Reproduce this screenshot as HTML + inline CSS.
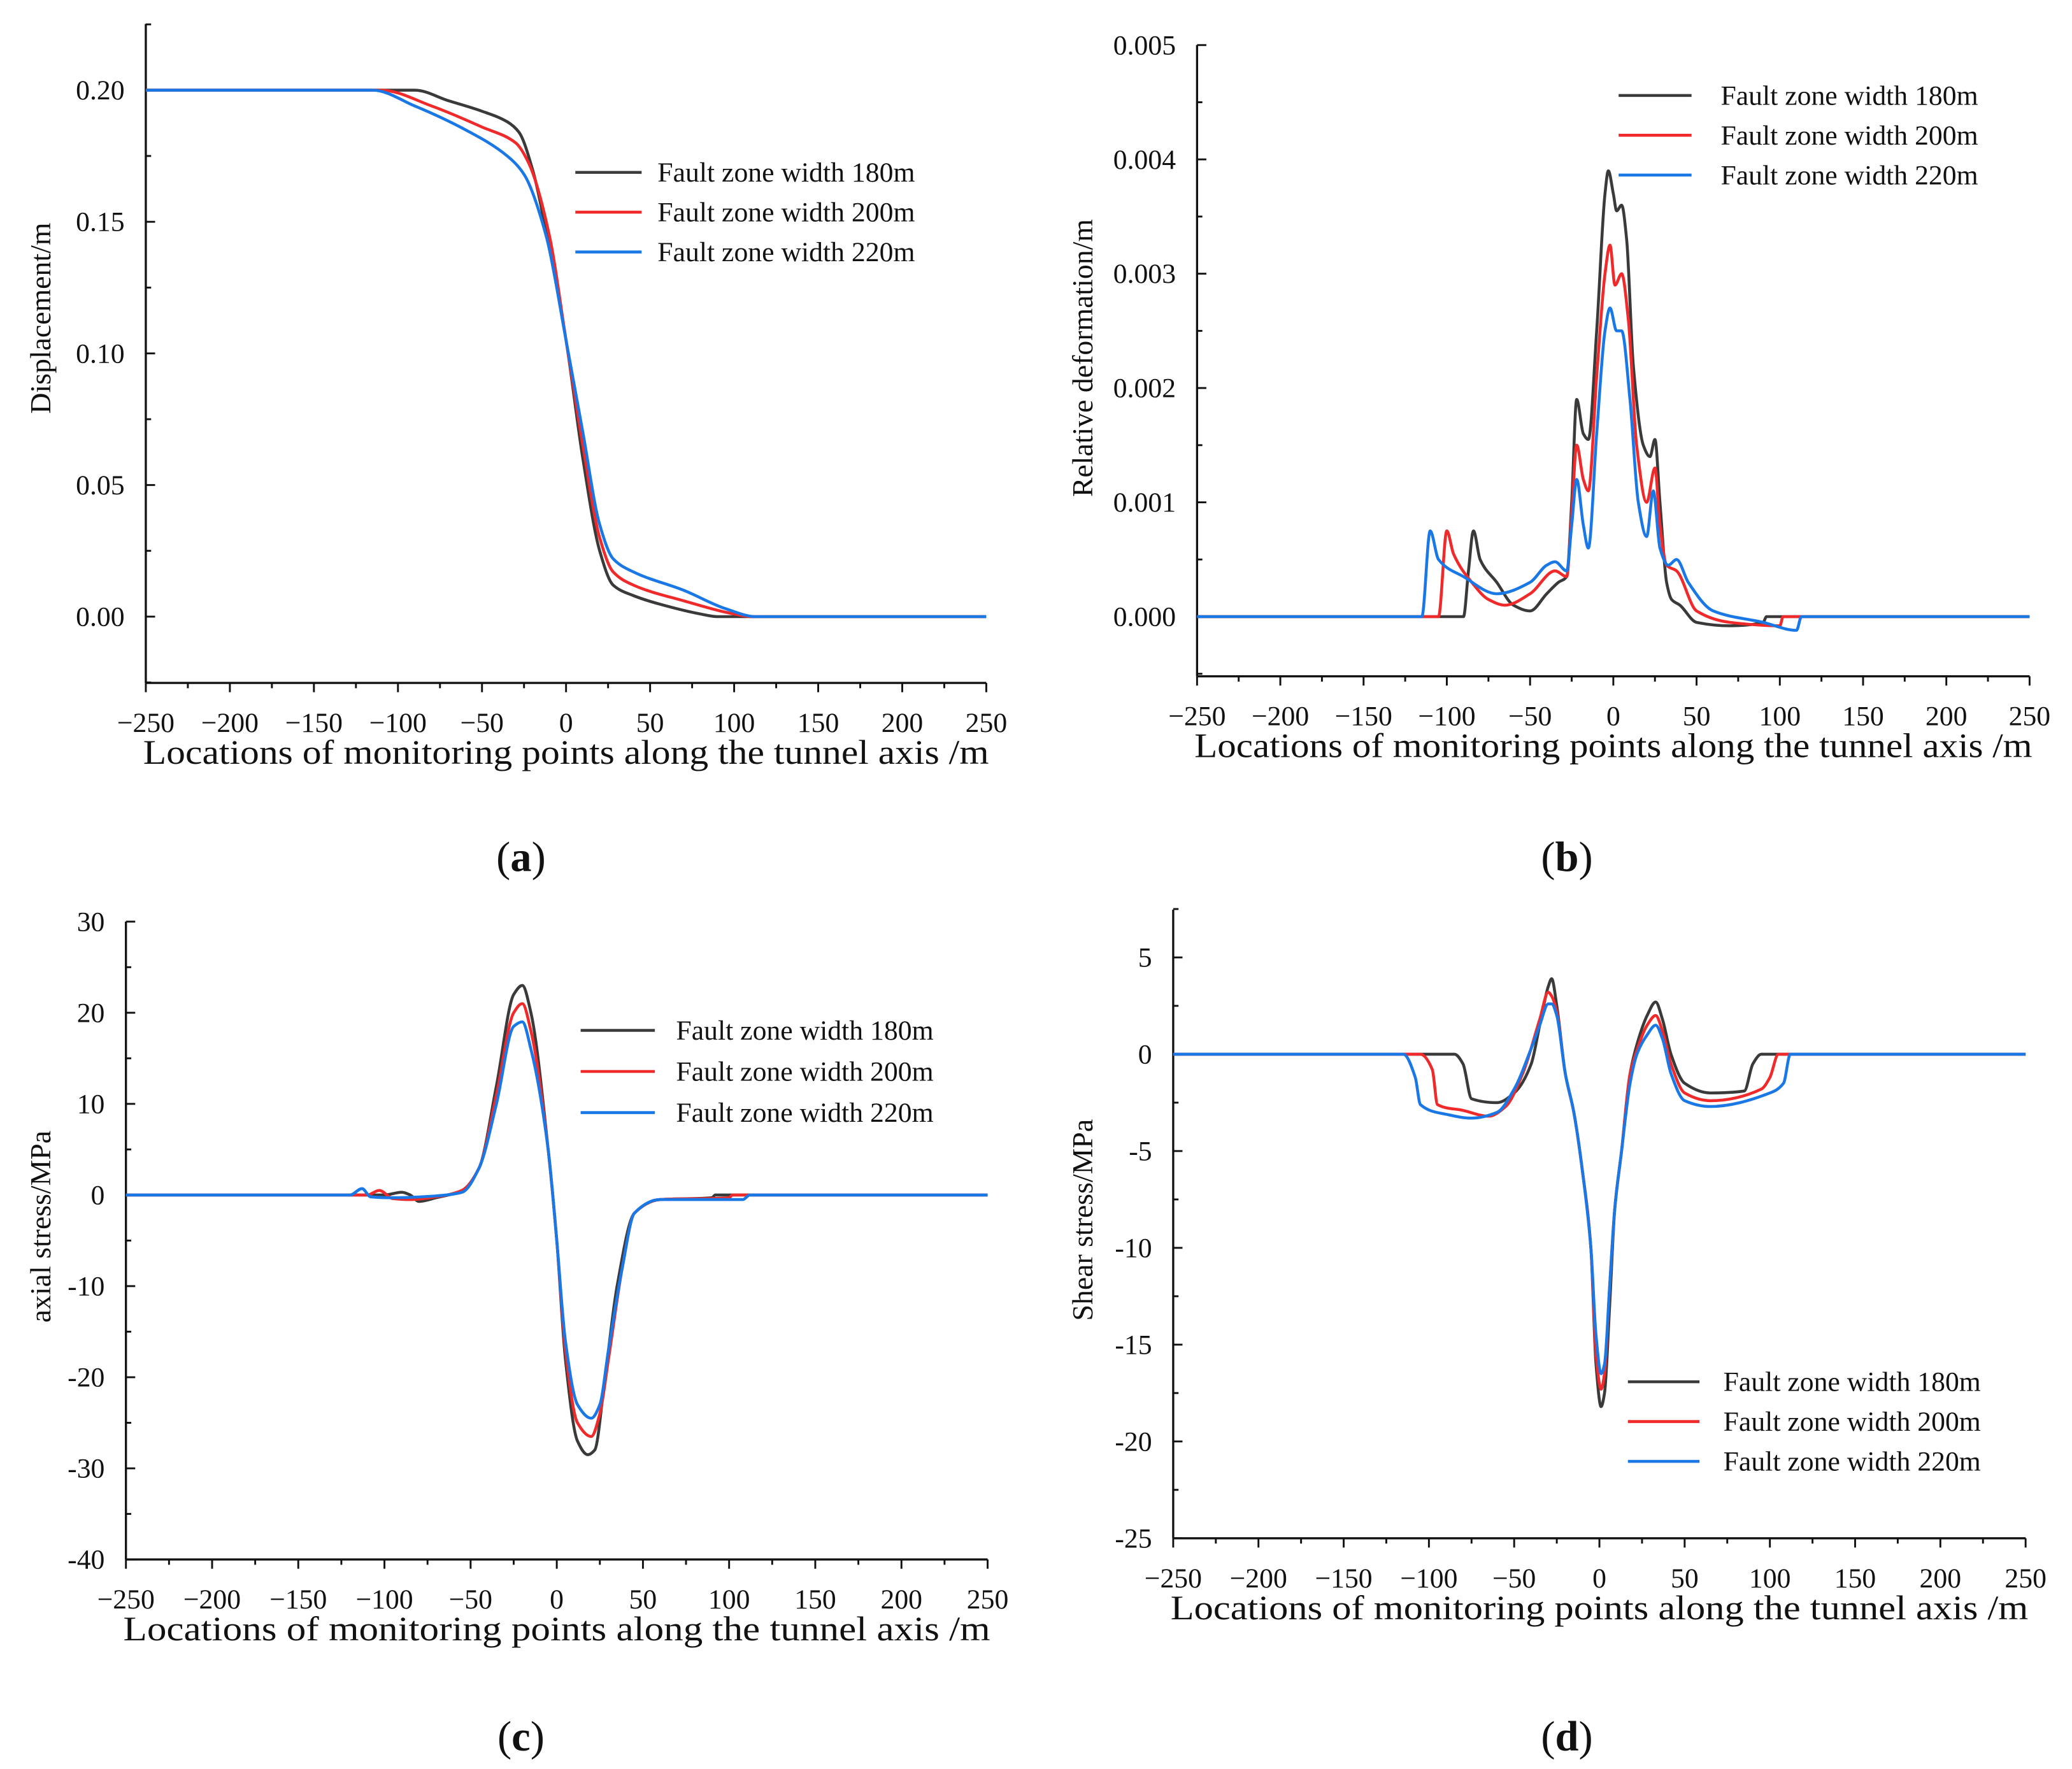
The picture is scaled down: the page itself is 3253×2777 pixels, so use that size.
<!DOCTYPE html>
<html><head><meta charset="utf-8"><style>
html,body{margin:0;padding:0;background:#fff;}
svg{display:block;}
svg text{font-family:"Liberation Serif","DejaVu Serif",serif;fill:#111;}
</style></head><body>
<svg id="fig" width="3253" height="2777" viewBox="0 0 1563 1334" preserveAspectRatio="none" font-family="Liberation Serif, serif" xmlns="http://www.w3.org/2000/svg">
<rect width="1563" height="1334" fill="#fff"/>
</svg>
<script>
// ---------- data ----------
const xTicks = [-250,-200,-150,-100,-50,0,50,100,150,200,250];
const legendLabels = ["Fault zone width 180m","Fault zone width 200m","Fault zone width 220m"];
const colors = ["#3a3a3a","#f02a2a","#1a78e6"];

const aTicks = [0.00,0.05,0.10,0.15,0.20];
const aTickLabels = ["0.00","0.05","0.10","0.15","0.20"];
const aX180 = [-250,-90,-70,-50,-35,-28,-20,-10,0,10,20,28,40,60,80,90,250];
const aY180 = [0.2,0.2,0.196,0.192,0.188,0.184,0.17,0.14,0.105,0.06,0.025,0.012,0.008,0.004,0.001,0,0];
const aX200 = [-250,-110,-80,-50,-30,-22,-10,0,10,20,28,40,70,100,110,250];
const aY200 = [0.2,0.2,0.194,0.186,0.18,0.172,0.145,0.105,0.065,0.03,0.017,0.012,0.006,0.001,0,0];
const aX220 = [-250,-115,-90,-60,-35,-25,-12,0,10,20,28,40,70,95,113,250];
const aY220 = [0.2,0.2,0.194,0.185,0.175,0.168,0.145,0.105,0.07,0.035,0.022,0.017,0.01,0.003,0,0];

const bTicks = [0,0.001,0.002,0.003,0.004,0.005];
const bTickLabels = ["0.000","0.001","0.002","0.003","0.004","0.005"];
const bX180 = [-250,-90,-87,-84,-80,-70,-60,-50,-40,-33,-28,-25,-22,-18,-15,-10,-5,-3,0,2,5,8,12,18,22,25,28,32,35,40,50,70,90,92,250];
const bY180 = [0,0,0.0004,0.00075,0.0005,0.0003,0.0001,0.00005,0.0002,0.0003,0.00035,0.001,0.0019,0.0016,0.00155,0.0025,0.0037,0.0039,0.0037,0.00355,0.0036,0.0033,0.0022,0.0015,0.0014,0.00155,0.001,0.0003,0.00015,0.0001,-0.00005,-0.00008,-0.00005,0,0];
const bX200 = [-250,-105,-100,-96,-85,-75,-65,-50,-35,-28,-25,-22,-18,-15,-10,-5,-2,1,5,9,14,20,25,28,32,38,50,70,100,102,250];
const bY200 = [0,0,0.00075,0.00055,0.0003,0.00015,0.0001,0.0002,0.0004,0.00035,0.0009,0.0015,0.0012,0.0011,0.0021,0.003,0.00325,0.0029,0.003,0.0026,0.0015,0.001,0.0013,0.0008,0.00045,0.0004,0.00005,-0.00005,-0.00008,0,0];
const bX220 = [-250,-115,-110,-105,-90,-70,-50,-40,-35,-28,-25,-22,-18,-15,-10,-5,-2,2,5,10,15,20,24,28,33,38,45,60,90,110,113,250];
const bY220 = [0,0,0.00075,0.0005,0.00035,0.0002,0.0003,0.00045,0.00048,0.0004,0.0008,0.0012,0.0008,0.0006,0.0016,0.0025,0.0027,0.0025,0.0025,0.0019,0.001,0.0007,0.0011,0.0006,0.00045,0.0005,0.0003,0.00005,-0.00005,-0.00012,0,0];

const cTicks = [-40,-30,-20,-10,0,10,20,30];
const cTickLabels = ["-40","-30","-20","-10","0","10","20","30"];
const cX180 = [-250,-100,-90,-85,-80,-70,-55,-45,-35,-25,-20,-15,-5,0,5,12,18,22,28,35,45,60,90,92,250];
const cY180 = [0,0,0.3,0,-0.7,-0.3,0.5,3,12,22,23,20,5,-5,-18,-27,-28.5,-28,-20,-10,-2,-0.5,-0.3,0,0];
const cX200 = [-250,-110,-103,-95,-85,-70,-55,-45,-35,-25,-20,-15,-5,0,5,12,20,25,30,38,45,60,100,102,250];
const cY200 = [0,0,0.5,-0.4,-0.5,-0.2,0.5,3,11,20,21,18,5,-5,-17,-25,-26.5,-24,-18,-8,-2,-0.5,-0.3,0,0];
const cX220 = [-250,-120,-113,-108,-95,-70,-55,-45,-35,-25,-20,-15,-5,0,5,12,20,25,30,38,45,60,108,112,250];
const cY220 = [0,0,0.7,-0.2,-0.3,-0.1,0.3,3,10,18.5,19,16,5,-5,-16,-23,-24.5,-23,-17,-8,-2,-0.5,-0.5,0,0];

const dTicks = [-25,-20,-15,-10,-5,0,5];
const dTickLabels = ["-25","-20","-15","-10","-5","0","5"];
const dX180 = [-250,-85,-80,-75,-60,-50,-40,-35,-30,-28,-25,-20,-15,-10,-5,-2,1,3,6,9,13,18,22,28,33,37,42,50,65,85,90,95,250];
const dY180 = [0,0,-0.5,-2.3,-2.5,-2,-0.5,1.5,3.5,3.9,2.5,-1,-3,-6,-10,-16,-18.2,-17.5,-13,-8,-5,-1,0.5,2,2.7,1.8,0,-1.5,-2,-1.9,-0.5,0,0];
const dX200 = [-250,-105,-98,-95,-80,-65,-55,-45,-35,-30,-28,-25,-20,-15,-10,-5,-2,1,3,6,9,13,18,22,28,33,37,42,50,65,95,100,105,250];
const dY200 = [0,0,-0.8,-2.6,-2.9,-3.2,-2.7,-1,1.8,3.2,3.0,2.2,-1,-3,-6,-10,-15.5,-17.3,-16.5,-12,-8,-5,-1,0.2,1.5,2.0,1.2,-0.5,-2,-2.4,-1.8,-1.2,0,0];
const dX220 = [-250,-115,-108,-105,-90,-75,-60,-50,-40,-35,-30,-28,-25,-20,-15,-10,-5,-2,1,3,6,9,13,18,22,28,33,37,42,50,65,100,108,112,250];
const dY220 = [0,0,-1.2,-2.6,-3.1,-3.3,-3.0,-1.8,0.3,1.5,2.6,2.6,2.0,-1,-3,-6,-10,-14.5,-16.5,-16,-12,-8,-5,-1.5,0,1,1.5,0.8,-1,-2.4,-2.7,-2.0,-1.5,0,0];

// ---------- drawing ----------
const NS = "http://www.w3.org/2000/svg";
const svg = document.getElementById("fig");
function mk(tag, attrs, parent){
  const e = document.createElementNS(NS, tag);
  for (const k in attrs) e.setAttribute(k, attrs[k]);
  (parent||svg).appendChild(e);
  return e;
}
function fmtX(v){ return v<0 ? "\u2212"+(-v) : String(v); }
// monotone cubic (Fritsch-Carlson) path — no overshoot
function smoothPath(pts){
  const n = pts.length;
  const dx=[], m=[];
  for (let i=0;i<n-1;i++){ dx[i]=pts[i+1][0]-pts[i][0]; m[i]=(pts[i+1][1]-pts[i][1])/dx[i]; }
  const t=[];
  t[0]=m[0]; t[n-1]=m[n-2];
  for (let i=1;i<n-1;i++){
    if (m[i-1]*m[i]<=0) t[i]=0;
    else { const w1=2*dx[i]+dx[i-1], w2=dx[i]+2*dx[i-1]; t[i]=(w1+w2)/(w1/m[i-1]+w2/m[i]); }
  }
  let d="M"+pts[0][0].toFixed(2)+","+pts[0][1].toFixed(2);
  for (let i=0;i<n-1;i++){
    const h=dx[i]/3;
    d+=" C"+(pts[i][0]+h).toFixed(2)+","+(pts[i][1]+t[i]*h).toFixed(2)+" "+(pts[i+1][0]-h).toFixed(2)+","+(pts[i+1][1]-t[i+1]*h).toFixed(2)+" "+pts[i+1][0].toFixed(2)+","+pts[i+1][1].toFixed(2);
  }
  return d;
}

function panel(p){
  const g = mk("g", {});
  
  
  const sx = v => p.x0 + (v+250)/500*(p.x1-p.x0);
  const sy = v => p.yz + (v - p.v0)/(p.v1 - p.v0)*(p.y1 - p.yz);
  const ya = mk("line",{x1:p.x0,y1:p.top,x2:p.x0,y2:p.bot,stroke:"#111","stroke-width":1.6},g);
  
  
  const xa = mk("line",{x1:p.x0,y1:p.bot,x2:p.x1,y2:p.bot,stroke:"#111","stroke-width":1.6},g);
  
  
  for (let v=-250; v<=250; v+=25){
    const major = v%50===0;
    mk("line",{x1:sx(v),y1:p.bot,x2:sx(v),y2:p.bot+(major?7:4),stroke:"#111","stroke-width":1.4},g);
  }
  xTicks.forEach(v=>{
    const t = mk("text",{x:sx(v),y:p.bot+37,"text-anchor":"middle","font-size":21,"font-family":"Liberation Serif, serif"},g);
    t.textContent = fmtX(v);
    
    
  });
  const xt = mk("text",{x:(p.x0+p.x1)/2,y:p.bot+61,"text-anchor":"middle","font-size":26,"font-family":"Liberation Serif, serif",textLength:p.x1-p.x0+4,lengthAdjust:"spacingAndGlyphs"},g);
  xt.textContent = "Locations of monitoring points along the tunnel axis /m";
  
  
  const step = p.ticks[1]-p.ticks[0];
  for (let v=p.ticks[0]; v<=p.ticks[p.ticks.length-1]+1e-9; v+=step/2){
    const yy = sy(v);
    const major = Math.abs(Math.round((v-p.ticks[0])/step)*step-(v-p.ticks[0]))<1e-9;
    mk("line",{x1:p.x0,y1:yy,x2:p.x0+(major?7:4),y2:yy,stroke:"#111","stroke-width":1.4},g);
  }
  if (p.extraMinor) p.extraMinor.forEach(v=>{
    mk("line",{x1:p.x0,y1:sy(v),x2:p.x0+4,y2:sy(v),stroke:"#111","stroke-width":1.4},g);
  });
  p.ticks.forEach((v,i)=>{
    const t = mk("text",{x:p.x0-16,y:sy(v)+7,"text-anchor":"end","font-size":21,"font-family":"Liberation Serif, serif"},g);
    t.textContent = p.tickLabels[i];
    
    
  });
  const yt = mk("text",{x:0,y:0,"text-anchor":"middle","font-size":22,"font-family":"Liberation Serif, serif",transform:`translate(${p.ytx},${p.yty}) rotate(-90)`,fill:"#222"},g);
  yt.textContent = p.ytitle;
  
  
  p.series.forEach((s,i)=>{
    const pts = s[0].map((x,k)=>[sx(x), sy(s[1][k])]);
    const path = mk("path",{d:smoothPath(pts),fill:"none",stroke:colors[i],"stroke-width":2.2,"stroke-linejoin":"round"},g);
    
    
  });
  legendLabels.forEach((lab,i)=>{
    const y = p.ly + i*p.lstep;
    const ln = mk("line",{x1:p.lx,y1:y,x2:p.lx+p.lw,y2:y,stroke:colors[i],"stroke-width":2.2},g);
    
    
    const t = mk("text",{x:p.ltx,y:y+7,"font-size":21,"font-family":"Liberation Serif, serif"},g);
    t.textContent = lab;
    
    
  });
  const lb = mk("text",{x:p.labx,y:p.laby,"text-anchor":"middle","font-size":32,"font-family":"Liberation Serif, serif"},g);
  lb.innerHTML = "(<tspan font-weight='bold'>"+p.letter+"</tspan>)";
  
  
}

panel({name:"panel-a-displacement",x0:110,x1:744,top:18,bot:515,v0:0,v1:0.20,yz:465,y1:68,
  ticks:aTicks,tickLabels:aTickLabels,extraMinor:[-0.025,0.225],ytitle:"Displacement/m",ytx:38,yty:240,
  series:[[aX180,aY180],[aX200,aY200],[aX220,aY220]],lx:434,lw:50,ltx:496,ly:130,lstep:30,letter:"a",labx:393,laby:657});
panel({name:"panel-b-relative-deformation",x0:903,x1:1531,top:34,bot:510,v0:0,v1:0.005,yz:465,y1:34,
  ticks:bTicks,tickLabels:bTickLabels,extraMinor:[-0.0005],ytitle:"Relative deformation/m",ytx:824,yty:270,
  series:[[bX180,bY180],[bX200,bY200],[bX220,bY220]],lx:1221,lw:55,ltx:1298,ly:72,lstep:30,letter:"b",labx:1182,laby:657});
panel({name:"panel-c-axial-stress",x0:95,x1:745,top:695,bot:1176,v0:-40,v1:30,yz:1176,y1:695,
  ticks:cTicks,tickLabels:cTickLabels,ytitle:"axial stress/MPa",ytx:38,yty:925,
  series:[[cX180,cY180],[cX200,cY200],[cX220,cY220]],lx:438,lw:56,ltx:510,ly:777,lstep:31,letter:"c",labx:393,laby:1320});
panel({name:"panel-d-shear-stress",x0:885,x1:1528,top:686,bot:1160,v0:-25,v1:5,yz:1160,y1:722,
  ticks:dTicks,tickLabels:dTickLabels,extraMinor:[7.5],ytitle:"Shear stress/MPa",ytx:824,yty:920,
  series:[[dX180,dY180],[dX200,dY200],[dX220,dY220]],lx:1228,lw:54,ltx:1300,ly:1042,lstep:30,letter:"d",labx:1182,laby:1320});
</script>
</body></html>
